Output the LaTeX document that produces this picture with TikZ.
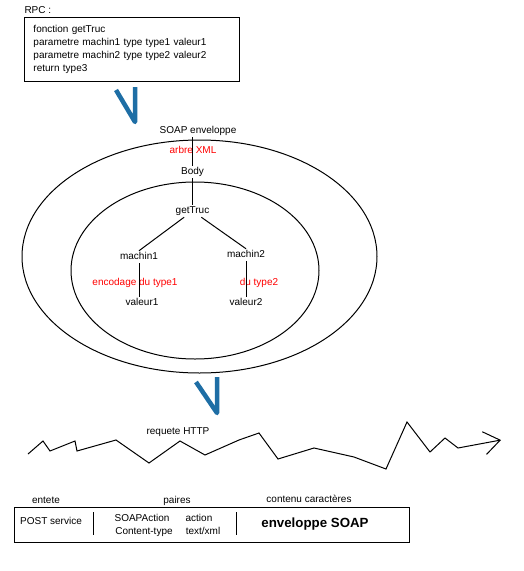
\documentclass[tikz,border=0pt]{standalone}
\usepackage{fontspec}
\setmainfont{Liberation Sans}
\usetikzlibrary{arrows.meta}
\definecolor{vblue}{RGB}{30,110,165}

\begin{document}
\begin{tikzpicture}[x=1pt,y=-1pt,font=\fontsize{10}{13}\selectfont,line width=1pt,
    every node/.style={inner sep=1pt,text height=7.5pt,text depth=2pt},
    redlbl/.style={text=red},
    vee/.style={draw=vblue,line width=4.5pt,line join=round}]
    \fill[white] (0,0) rectangle (524,571);
    \useasboundingbox (0,0) rectangle (524,571);

    \node[anchor=west] (0) at (23,11) {RPC :};
    \node[draw,anchor=north west,align=left,text height=,text depth=,inner xsep=9pt,inner ysep=5pt,text width=197pt,minimum height=64pt] (1) at (24,17)
      {fonction getTruc\\parametre machin1 type type1 valeur1\\parametre machin2 type type2 valeur2\\return type3};

    \draw[vee] (116,90) -- (135,122) -- (135,87);

    \node (2) at (198,131) {SOAP enveloppe};
    \node (3) at (192.5,172) {Body};
    \node (4) at (192.5,211) {getTruc};
    \node (5) at (139,257) {machin1};
    \node (6) at (246,255) {machin2};
    \node (7) at (142,303) {valeur1};
    \node (8) at (246,303) {valeur2};

    \node[redlbl] (9) at (193,151) {arbre XML};
    \node[redlbl] (10) at (135,283) {encodage du type1};
    \node[redlbl] (11) at (259,283) {du type2};

    \draw (199.5,256.5) ellipse [x radius=177.5, y radius=116.5];
    \draw (195,270.5) ellipse [x radius=124, y radius=88.5];

    \draw (2.south -| 3) -- (3);
    \draw (3)--(4);
    \draw (4)--(5.north);
    \draw (4)--(6.north);
    \draw (5) -- (5 |- 7.north);
    \draw (6)--(8);

    \draw[vee] (196,382) -- (217,413) -- (217,377);

    \node (12) at (178,432) {requete HTTP};
    \draw[-{Straight Barb[length=16pt,width=23pt]}] (28,454) -- (43,441) -- (50,451) -- (75,441) -- (77,451) -- (116,440)
      -- (149,463) -- (180,441) -- (205,455) -- (239,440) -- (259,433) -- (278,459) -- (314,448) -- (354,457)
      -- (386,469) -- (407,422) -- (430,452) -- (445,438) -- (458,448) -- (501,440);

    \node (13) at (46,501) {entete};
    \node (14) at (177,501) {paires};
    \node (15) at (309,500) {contenu caractères};
    \node[draw,minimum width=395pt,minimum height=35pt,inner sep=0pt,text height=,text depth=] (16) at (211.5,524.5) {};
    \node (17) at (51,522) {POST service};
    \node (18) at (142,519) {SOAPAction};
    \node (19) at (199,519) {action};
    \node (20) at (144,532) {Content-type};
    \node (21) at (203,532) {text/xml};
    \node[font=\fontsize{13.3}{16}\selectfont\bfseries] (22) at (315,525) {enveloppe SOAP};
    \draw (93,512) -- (93,535);
    \draw (236,512) -- (236,535);
  \end{tikzpicture}
\end{document}
